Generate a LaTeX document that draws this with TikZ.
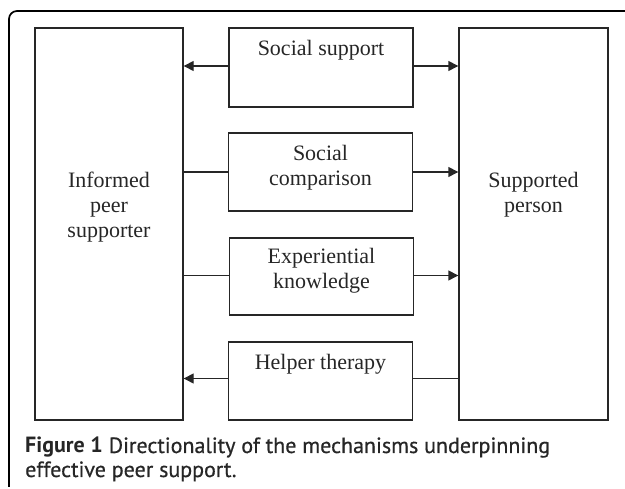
\documentclass[tikz,border=0pt]{standalone}
\usepackage{fontspec}
\setmainfont{Liberation Serif}
\newfontfamily\capfont[FakeBold=0.6]{PT Sans}
\newfontfamily\capbold{PT Sans Bold}
\usetikzlibrary{arrows.meta}
\begin{document}
\begin{tikzpicture}[x=1pt,y=-1pt,
  box/.style={draw=black!85,line width=1.4pt,minimum width=#1,inner sep=0pt},
  lbl/.style={font=\fontsize{22}{25}\selectfont,align=center,text=black!85,inner sep=0pt},
  conn/.style={draw=black!85,line width=1.4pt},
  arr/.style={conn,-{Triangle[length=10pt,width=10pt]}},
  captxt/.style={anchor=base west,inner sep=0pt,font=\capfont\fontsize{22}{24}\selectfont,text=black!85}]
\useasboundingbox (0,0) rectangle (625,489);
\draw[line width=1.7pt,rounded corners=8pt] (625,11) -- (9,11) -- (9,487);
% big boxes
\node[box=148pt,minimum height=392pt] (ips) at (109,224) {};
\node[box=149pt,minimum height=392pt] (sp) at (533.5,224) {};
\node[lbl] (ipst) at (109,207) {Informed\\peer\\supporter};
\node[lbl] (spt) at (533.5,195) {Supported\\person};
% middle boxes
\node[box=184pt,minimum height=79pt] (ss) at (321,67.5) {};
\node[box=184pt,minimum height=78pt] (sc) at (320.5,172) {};
\node[box=184pt,minimum height=77pt] (ek) at (321.5,276.5) {};
\node[box=184pt,minimum height=78pt] (ht) at (320.5,381) {};
\node[lbl] (sst) at (321,50) {Social support};
\node[lbl] (sct) at (320.5,168) {Social\\comparison};
\node[lbl] (ekt) at (321.5,271) {Experiential\\knowledge};
\node[lbl] (htt) at (320.5,364) {Helper therapy};
% connectors
\draw[arr] (ss.west |- 0,66) -- (ips.east |- 0,66);
\draw[arr] (ss.east |- 0,66) -- (sp.west |- 0,66);
\draw[conn] (ips.east |- sc.west) -- (sc.west);
\draw[arr] (sc.east) -- (sp.west |- sc.east);
\draw[conn] (ips.east |- 0,275.5) -- (ek.west |- 0,275.5);
\draw[arr] (ek.east |- 0,275.5) -- (sp.west |- 0,275.5);
\draw[arr] (ht.west |- 0,378.5) -- (ips.east |- 0,378.5);
\draw[conn] (sp.west |- 0,378.5) -- (ht.east |- 0,378.5);
% caption
\node[captxt] (cap1) at (25,453) {{\capbold Figure 1} Directionality of the mechanisms underpinning};
\node[captxt] (cap2) at (25,477) {effective peer support.};
\end{tikzpicture}
\end{document}
